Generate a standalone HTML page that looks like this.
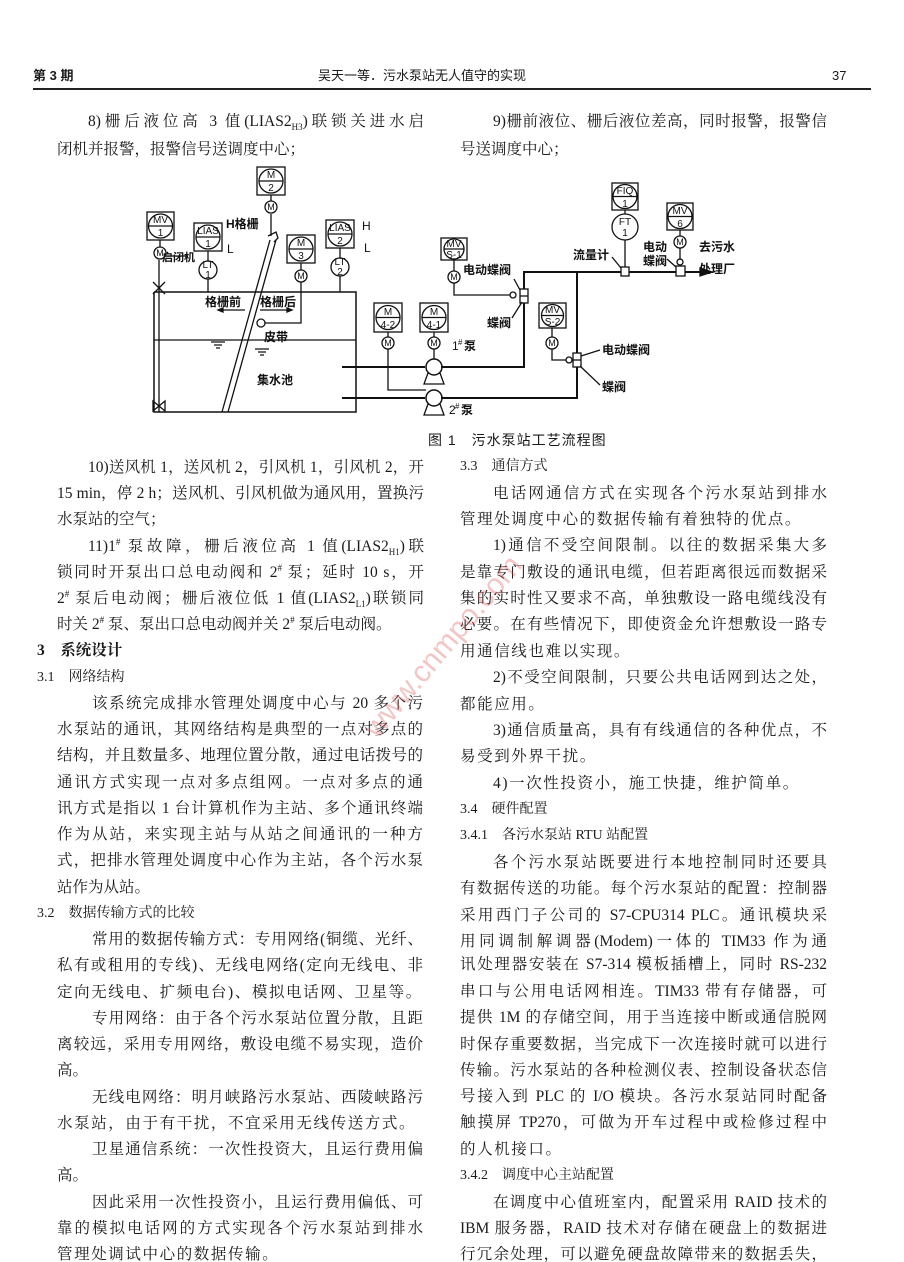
<!DOCTYPE html>
<html><head><meta charset="utf-8"><style>
body{margin:0;background:#fff;}
#p{position:relative;width:904px;height:1262px;overflow:hidden;background:#fff;color:#1a1a1a;font-family:"Liberation Serif","Noto Serif CJK SC","Noto Sans CJK SC",serif;font-size:15.5px;}
.l{position:absolute;white-space:nowrap;line-height:20px;height:20px;}
.j{text-align:justify;text-align-last:justify;white-space:normal;overflow:hidden;}
.h{font-family:"Liberation Sans","Noto Sans CJK SC",sans-serif;font-size:13px;}
.sb{font-size:9px;position:relative;top:4px;line-height:0;}
.sp{font-size:9px;position:relative;top:-6px;line-height:0;}
svg text{font-family:"Liberation Sans","Noto Sans CJK SC",sans-serif;}
</style></head><body><div id="p">
<div class="l h" style="left:33px;top:66px;font-weight:bold">第 3 期</div>
<div class="l h" style="left:318px;top:66px;">吴天一等．污水泵站无人值守的实现</div>
<div class="l h" style="left:832px;top:66px;">37</div>
<div style="position:absolute;left:33px;top:88px;width:838px;height:2px;background:#222"></div>

<div class="l j" style="left:88px;top:112px;width:336px">8)栅后液位高 3 值(LIAS2<span class="sb">H3</span>)联锁关进水启</div>
<div class="l" style="left:57px;top:140px">闭机并报警，报警信号送调度中心；</div>
<div class="l j" style="left:493px;top:112px;width:334px">9)栅前液位、栅后液位差高，同时报警，报警信</div>
<div class="l" style="left:460px;top:140px">号送调度中心；</div>

<svg style="position:absolute;left:0;top:0" width="904" height="430" viewBox="0 0 904 430" fill="none" stroke="#111" stroke-width="1.3" font-size="11">
<polyline points="154,292 154,412 356,412 356,292 154,292" stroke-width="1.5"/>
<line x1="154" y1="340" x2="356" y2="340"/>
<line x1="270" y1="240" x2="222" y2="412" stroke-width="1.3"/>
<line x1="276" y1="240" x2="228" y2="412" stroke-width="1.3"/>
<path d="M268,236 l8,-4 l2,6 l-4,4" />
<line x1="271" y1="214" x2="271" y2="236"/>
<line x1="159" y1="260" x2="159" y2="412"/>
<path d="M153,282 l12,12 M165,282 l-12,12"/>
<path d="M153,401 l12,10 l0,-10 l-12,10 z"/>
<g>
<rect x="147" y="212" width="27" height="28"/><circle cx="160.5" cy="226" r="12"/><line x1="148.5" y1="226" x2="172.5" y2="226"/>
<rect x="194" y="223" width="28" height="28"/><circle cx="208" cy="237" r="12"/><line x1="196" y1="237" x2="220" y2="237"/>
<rect x="257" y="167" width="28" height="28"/><circle cx="271" cy="181" r="12"/><line x1="259" y1="181" x2="283" y2="181"/>
<rect x="287" y="235" width="28" height="28"/><circle cx="301" cy="249" r="12"/><line x1="289" y1="249" x2="313" y2="249"/>
<rect x="326" y="220" width="28" height="28"/><circle cx="340" cy="234" r="12"/><line x1="328" y1="234" x2="352" y2="234"/>
<rect x="441" y="238" width="26" height="22"/><circle cx="454" cy="249" r="10"/><line x1="444" y1="249" x2="464" y2="249"/>
<rect x="374" y="303" width="28" height="29"/><circle cx="388" cy="317.5" r="12"/><line x1="376" y1="317.5" x2="400" y2="317.5"/>
<rect x="420" y="303" width="28" height="29"/><circle cx="434" cy="317.5" r="12"/><line x1="422" y1="317.5" x2="446" y2="317.5"/>
<rect x="539" y="303" width="27" height="25"/><circle cx="552.5" cy="315.5" r="11"/><line x1="541.5" y1="315.5" x2="563.5" y2="315.5"/>
<rect x="612" y="183" width="26" height="27"/><circle cx="625" cy="196.5" r="12"/><line x1="613" y1="196.5" x2="637" y2="196.5"/>
<rect x="667" y="203" width="26" height="27"/><circle cx="680" cy="216.5" r="12"/><line x1="668" y1="216.5" x2="692" y2="216.5"/>
</g>
<g fill="#111" stroke="none" font-size="10" text-anchor="middle">
<text x="160.5" y="223">MV</text><text x="160.5" y="236">1</text>
<text x="208" y="234">LIAS</text><text x="208" y="247">1</text>
<text x="271" y="178">M</text><text x="271" y="191">2</text>
<text x="301" y="246">M</text><text x="301" y="259">3</text>
<text x="340" y="231">LIAS</text><text x="340" y="244">2</text>
<text x="454" y="247">MV</text><text x="454" y="258">S-1</text>
<text x="388" y="315">M</text><text x="388" y="328">4-2</text>
<text x="434" y="315">M</text><text x="434" y="328">4-1</text>
<text x="552.5" y="313">MV</text><text x="552.5" y="325">S-2</text>
<text x="625" y="194">FIQ</text><text x="625" y="207">1</text>
<text x="680" y="214">MV</text><text x="680" y="227">6</text>
</g>
<g>
<line x1="160" y1="240" x2="160" y2="247"/><circle cx="160" cy="253" r="6"/>
<line x1="271" y1="195" x2="271" y2="201"/><circle cx="271" cy="207" r="6"/>
<line x1="301" y1="263" x2="301" y2="270"/><circle cx="301" cy="276" r="6"/>
<line x1="454" y1="260" x2="454" y2="271"/><circle cx="454" cy="277" r="6"/>
<line x1="388" y1="332" x2="388" y2="337"/><circle cx="388" cy="343" r="6"/>
<line x1="434" y1="332" x2="434" y2="337"/><circle cx="434" cy="343" r="6"/>
<line x1="552" y1="328" x2="552" y2="337"/><circle cx="552" cy="343" r="6"/>
<line x1="680" y1="230" x2="680" y2="236"/><circle cx="680" cy="242" r="6"/>
<line x1="208" y1="251" x2="208" y2="261"/><circle cx="208" cy="270" r="9"/><line x1="208" y1="279" x2="208" y2="292"/>
<line x1="340" y1="248" x2="340" y2="258"/><circle cx="340" cy="267" r="9"/><line x1="340" y1="276" x2="340" y2="292"/>
<line x1="625" y1="210" x2="625" y2="214"/><circle cx="625" cy="227" r="13"/><line x1="625" y1="240" x2="625" y2="268"/>
</g>
<g fill="#111" stroke="none" font-size="9" text-anchor="middle">
<text x="160" y="256">M</text><text x="271" y="210">M</text><text x="301" y="279">M</text><text x="454" y="280">M</text>
<text x="388" y="346">M</text><text x="434" y="346">M</text><text x="552" y="346">M</text><text x="680" y="245">M</text>
<text x="208" y="268" font-size="10">LT</text><text x="208" y="278" font-size="10">1</text>
<text x="340" y="265" font-size="10">LT</text><text x="340" y="275" font-size="10">2</text>
<text x="625" y="225" font-size="10">FT</text><text x="625" y="236" font-size="10">1</text>
</g>
<polyline points="301,282 301,323 265,323"/><circle cx="261" cy="323" r="4"/>
<g stroke-width="2">
<polyline points="342,367 425,367"/><polyline points="441,367 524,367 524,272 710,272"/>
<polyline points="342,398 425,398"/><polyline points="441,398 577,398 577,272"/>
</g>
<path d="M700,268 l12,4 l-12,4 z" fill="#111"/>
<circle cx="434" cy="367" r="8" stroke-width="1.5"/><path d="M428,373 l-4,11 h20 l-4,-11" />
<circle cx="434" cy="398" r="8" stroke-width="1.5"/><path d="M428,404 l-4,11 h20 l-4,-11"/>
<polyline points="388,349 388,390 426,390"/>
<line x1="434" y1="349" x2="434" y2="359"/>
<polyline points="454,283 454,295 510,295"/><circle cx="513" cy="295" r="3"/>
<rect x="520" y="289" width="8" height="14" fill="#fff"/><line x1="520" y1="296" x2="528" y2="296"/>
<polyline points="552,349 552,360 566,360"/><circle cx="569" cy="360" r="3"/>
<rect x="573" y="353" width="8" height="14" fill="#fff"/><line x1="573" y1="360" x2="581" y2="360"/>
<rect x="621" y="267" width="8" height="9" fill="#fff"/>
<line x1="680" y1="248" x2="680" y2="260"/><circle cx="680" cy="262" r="3"/><rect x="676" y="266" width="9" height="10" fill="#fff"/>
<line x1="514" y1="279" x2="520" y2="290"/><line x1="512" y1="318" x2="522" y2="302"/>
<line x1="600" y1="350" x2="581" y2="356"/><line x1="600" y1="385" x2="580" y2="366"/>
<line x1="612" y1="257" x2="621" y2="268"/><line x1="667" y1="259" x2="676" y2="267"/>
<line x1="188" y1="256" x2="166" y2="256"/>
<line x1="218" y1="310" x2="245" y2="310"/><path d="M218,310 l5,-2 v4 z" fill="#111"/>
<line x1="260" y1="310" x2="290" y2="310"/><path d="M292,310 l-5,-2 v4 z" fill="#111"/>
<path d="M211,342 h14 M214,345 h8 M216,348 h4"/><path d="M255,349 h14 M258,352 h8 M260,355 h4"/>
<g fill="#111" stroke="none" font-size="12" font-weight="bold">
<text x="226" y="228">H格栅</text><text x="362" y="230" font-weight="normal">H</text><text x="364" y="252" font-weight="normal">L</text>
<text x="227" y="253" font-weight="normal">L</text>
<text x="162" y="261" font-size="11">启闭机</text>
<text x="205" y="306">格栅前</text><text x="260" y="306">格栅后</text>
<text x="264" y="341">皮带</text><text x="257" y="384">集水池</text>
<text x="452" y="350" font-weight="normal">1</text><text x="458" y="345" font-size="8" font-weight="normal">#</text><text x="464" y="350">泵</text>
<text x="449" y="414" font-weight="normal">2</text><text x="455" y="409" font-size="8" font-weight="normal">#</text><text x="461" y="414">泵</text>
<text x="463" y="274">电动蝶阀</text><text x="487" y="327">蝶阀</text>
<text x="602" y="354">电动蝶阀</text><text x="602" y="391">蝶阀</text>
<text x="573" y="259">流量计</text><text x="643" y="251">电动</text><text x="643" y="265">蝶阀</text>
<text x="699" y="251">去污水</text><text x="699" y="273">处理厂</text>
</g>
</svg>

<div class="l" style="left:428px;top:430px;font-family:'Liberation Sans','Noto Sans CJK SC',sans-serif;font-size:14px;letter-spacing:1px">图 1　污水泵站工艺流程图</div>

<div class="l j" style="left:88px;top:458px;width:336px">10)送风机 1，送风机 2，引风机 1，引风机 2，开</div>
<div class="l j" style="left:57px;top:484px;width:367px">15 min，停 2 h；送风机、引风机做为通风用，置换污</div>
<div class="l" style="left:57px;top:510px">水泵站的空气；</div>
<div class="l j" style="left:88px;top:537px;width:336px">11)1<span class="sp">#</span> 泵故障，栅后液位高 1 值(LIAS2<span class="sb">H1</span>)联</div>
<div class="l j" style="left:57px;top:563px;width:367px">锁同时开泵出口总电动阀和 2<span class="sp">#</span> 泵；延时 10 s，开</div>
<div class="l j" style="left:57px;top:589px;width:367px">2<span class="sp">#</span> 泵后电动阀；栅后液位低 1 值(LIAS2<span class="sb">L1</span>)联锁同</div>
<div class="l" style="left:57px;top:615px">时关 2<span class="sp">#</span> 泵、泵出口总电动阀并关 2<span class="sp">#</span> 泵后电动阀。</div>
<div class="l" style="left:37px;top:641px;font-weight:bold">3　系统设计</div>
<div class="l" style="left:37px;top:668px;font-size:14px">3.1　网络结构</div>
<div class="l j" style="left:92px;top:694px;width:331px">该系统完成排水管理处调度中心与 20 多个污</div>
<div class="l j" style="left:57px;top:720px;width:366px">水泵站的通讯，其网络结构是典型的一点对多点的</div>
<div class="l j" style="left:57px;top:746px;width:366px">结构，并且数量多、地理位置分散，通过电话拨号的</div>
<div class="l j" style="left:57px;top:773px;width:366px">通讯方式实现一点对多点组网。一点对多点的通</div>
<div class="l j" style="left:57px;top:799px;width:366px">讯方式是指以 1 台计算机作为主站、多个通讯终端</div>
<div class="l j" style="left:57px;top:825px;width:366px">作为从站，来实现主站与从站之间通讯的一种方</div>
<div class="l j" style="left:57px;top:851px;width:366px">式，把排水管理处调度中心作为主站，各个污水泵</div>
<div class="l" style="left:57px;top:878px">站作为从站。</div>
<div class="l" style="left:37px;top:904px;font-size:14px">3.2　数据传输方式的比较</div>
<div class="l j" style="left:92px;top:930px;width:331px">常用的数据传输方式：专用网络(铜缆、光纤、</div>
<div class="l j" style="left:57px;top:956px;width:366px">私有或租用的专线)、无线电网络(定向无线电、非</div>
<div class="l" style="left:57px;top:983px;letter-spacing:1.6px">定向无线电、扩频电台)、模拟电话网、卫星等。</div>
<div class="l j" style="left:92px;top:1009px;width:331px">专用网络：由于各个污水泵站位置分散，且距</div>
<div class="l j" style="left:57px;top:1035px;width:366px">离较远，采用专用网络，敷设电缆不易实现，造价</div>
<div class="l" style="left:57px;top:1061px">高。</div>
<div class="l j" style="left:92px;top:1088px;width:331px">无线电网络：明月峡路污水泵站、西陵峡路污</div>
<div class="l" style="left:57px;top:1114px;letter-spacing:1.6px">水泵站，由于有干扰，不宜采用无线传送方式。</div>
<div class="l j" style="left:92px;top:1140px;width:331px">卫星通信系统：一次性投资大，且运行费用偏</div>
<div class="l" style="left:57px;top:1166px">高。</div>
<div class="l j" style="left:92px;top:1193px;width:331px">因此采用一次性投资小，且运行费用偏低、可</div>
<div class="l j" style="left:57px;top:1219px;width:366px">靠的模拟电话网的方式实现各个污水泵站到排水</div>
<div class="l" style="left:57px;top:1245px;letter-spacing:1.6px">管理处调试中心的数据传输。</div>

<div class="l" style="left:460px;top:457px;font-size:14px">3.3　通信方式</div>
<div class="l j" style="left:493px;top:484px;width:334px">电话网通信方式在实现各个污水泵站到排水</div>
<div class="l" style="left:460px;top:510px;letter-spacing:1.6px">管理处调度中心的数据传输有着独特的优点。</div>
<div class="l j" style="left:493px;top:536px;width:334px">1)通信不受空间限制。以往的数据采集大多</div>
<div class="l j" style="left:460px;top:563px;width:367px">是靠专门敷设的通讯电缆，但若距离很远而数据采</div>
<div class="l j" style="left:460px;top:589px;width:367px">集的实时性又要求不高，单独敷设一路电缆线没有</div>
<div class="l j" style="left:460px;top:615px;width:367px">必要。在有些情况下，即使资金允许想敷设一路专</div>
<div class="l" style="left:460px;top:642px;letter-spacing:1.6px">用通信线也难以实现。</div>
<div class="l j" style="left:493px;top:668px;width:334px">2)不受空间限制，只要公共电话网到达之处，</div>
<div class="l" style="left:460px;top:695px;letter-spacing:1.6px">都能应用。</div>
<div class="l j" style="left:493px;top:721px;width:334px">3)通信质量高，具有有线通信的各种优点，不</div>
<div class="l" style="left:460px;top:747px;letter-spacing:1.6px">易受到外界干扰。</div>
<div class="l" style="left:493px;top:774px;letter-spacing:1.6px">4)一次性投资小，施工快捷，维护简单。</div>
<div class="l" style="left:460px;top:800px;font-size:14px">3.4　硬件配置</div>
<div class="l" style="left:460px;top:826px;font-size:14px">3.4.1　各污水泵站 RTU 站配置</div>
<div class="l j" style="left:493px;top:853px;width:334px">各个污水泵站既要进行本地控制同时还要具</div>
<div class="l j" style="left:460px;top:879px;width:367px">有数据传送的功能。每个污水泵站的配置：控制器</div>
<div class="l j" style="left:460px;top:906px;width:367px">采用西门子公司的 S7-CPU314 PLC。通讯模块采</div>
<div class="l j" style="left:460px;top:932px;width:367px">用同调制解调器(Modem)一体的 TIM33 作为通</div>
<div class="l j" style="left:460px;top:955px;width:367px">讯处理器安装在 S7-314 模板插槽上，同时 RS-232</div>
<div class="l j" style="left:460px;top:982px;width:367px">串口与公用电话网相连。TIM33 带有存储器，可</div>
<div class="l j" style="left:460px;top:1008px;width:367px">提供 1M 的存储空间，用于当连接中断或通信脱网</div>
<div class="l j" style="left:460px;top:1035px;width:367px">时保存重要数据，当完成下一次连接时就可以进行</div>
<div class="l j" style="left:460px;top:1061px;width:367px">传输。污水泵站的各种检测仪表、控制设备状态信</div>
<div class="l j" style="left:460px;top:1087px;width:367px">号接入到 PLC 的 I/O 模块。各污水泵站同时配备</div>
<div class="l j" style="left:460px;top:1113px;width:367px">触摸屏 TP270，可做为开车过程中或检修过程中</div>
<div class="l" style="left:460px;top:1140px;letter-spacing:1.6px">的人机接口。</div>
<div class="l" style="left:460px;top:1166px;font-size:14px">3.4.2　调度中心主站配置</div>
<div class="l j" style="left:493px;top:1193px;width:334px">在调度中心值班室内，配置采用 RAID 技术的</div>
<div class="l j" style="left:460px;top:1219px;width:367px">IBM 服务器，RAID 技术对存储在硬盘上的数据进</div>
<div class="l j" style="left:460px;top:1245px;width:367px">行冗余处理，可以避免硬盘故障带来的数据丢失，</div>

<div style="position:absolute;left:330px;top:630px;transform:rotate(-50deg);color:rgba(220,90,90,0.35);font-family:'Liberation Sans',sans-serif;font-size:30px;white-space:nowrap">www.cnmpo.com</div>
</div></body></html>
